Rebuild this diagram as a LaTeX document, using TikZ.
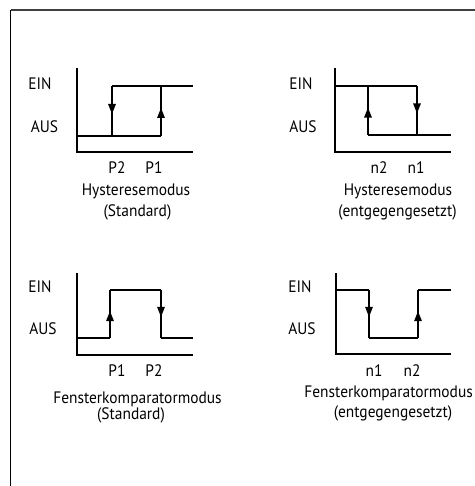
\documentclass[tikz,border=0pt]{standalone}
\usepackage{fontspec}
\setmainfont[FakeStretch=0.93]{PT Sans}
\usetikzlibrary{arrows.meta,decorations.markings}
\begin{document}
\begin{tikzpicture}[x=1pt,y=-1pt,
  frameline/.style={line width=1.4pt},
  axisline/.style={line width=1.4pt},
  curve/.style={line width=1.4pt, line join=miter},
  midarrow/.style={curve, postaction={decorate},
    decoration={markings, mark=at position 0.56 with {\arrow{Triangle[length=10pt,width=7.5pt]}}}},
  txt/.style={font=\fontsize{16.6}{19}\selectfont, inner sep=0pt, anchor=base}
]
\useasboundingbox (0,0) rectangle (474,486);

% outer frame (only top and left edges lie inside the page)
\coordinate (fTL) at (10.5,10);
\coordinate (fTR) at (480,10);
\coordinate (fBL) at (10.5,492);
\draw[frameline, black!75] (fTL) -- (fTR);
\draw[frameline] (fTL) -- (fBL);

% ---------- Hysteresemodus (Standard) ----------
\coordinate (a1top) at (77,68);
\coordinate (a1o) at (77,152);
\coordinate (a1end) at (193,152);
\draw[axisline] (a1top) -- (a1o) -- (a1end);
\coordinate (h1l) at (77,136);
\coordinate (h1p2lo) at (112,136);
\coordinate (h1p2hi) at (112,86);
\coordinate (h1p1lo) at (161,136);
\coordinate (h1p1hi) at (161,86);
\coordinate (h1r) at (193,86);
\draw[curve] (h1l) -- (h1p1lo);
\draw[curve] (h1p2hi) -- (h1r);
\draw[midarrow] (h1p2hi) -- (h1p2lo);
\draw[midarrow] (h1p1lo) -- (h1p1hi);
\node[txt] (ein1) at (40,90) {EIN};
\node[txt] (aus1) at (44.5,133) {AUS};
\node[txt] (p2a) at (117,174) {P2};
\node[txt] (p1a) at (154,174) {P1};
\node[txt] (t1) at (136,196) {Hysteresemodus};
\node[txt] (s1) at (137.5,216) {(Standard)};

% ---------- Hysteresemodus (entgegengesetzt) ----------
\coordinate (a2top) at (335,68);
\coordinate (a2o) at (335,152);
\coordinate (a2end) at (451,152);
\draw[axisline] (a2top) -- (a2o) -- (a2end);
\coordinate (h2l) at (335,86);
\coordinate (h2n2hi) at (368,86);
\coordinate (h2n2lo) at (368,135);
\coordinate (h2n1hi) at (417,86);
\coordinate (h2n1lo) at (417,135);
\coordinate (h2r) at (451,135);
\draw[curve] (h2l) -- (h2n1hi);
\draw[curve] (h2n2lo) -- (h2r);
\draw[midarrow] (h2n2lo) -- (h2n2hi);
\draw[midarrow] (h2n1hi) -- (h2n1lo);
\node[txt] (ein2) at (301,90) {EIN};
\node[txt] (aus2) at (303,133) {AUS};
\node[txt] (n2a) at (379,174) {n2};
\node[txt] (n1a) at (416,174) {n1};
\node[txt] (t2) at (398,196) {Hysteresemodus};
\node[txt] (s2) at (397.5,216) {(entgegengesetzt)};

% ---------- Fensterkomparatormodus (Standard) ----------
\coordinate (a3top) at (77,273);
\coordinate (a3o) at (77,355);
\coordinate (a3end) at (193,355);
\draw[axisline] (a3top) -- (a3o) -- (a3end);
\coordinate (w3l) at (77,338);
\coordinate (w3p1lo) at (110,338);
\coordinate (w3p1hi) at (110,290);
\coordinate (w3p2hi) at (161,290);
\coordinate (w3p2lo) at (161,338);
\coordinate (w3r) at (193,338);
\draw[curve] (w3l) -- (w3p1lo);
\draw[midarrow] (w3p1lo) -- (w3p1hi);
\draw[curve] (w3p1hi) -- (w3p2hi);
\draw[midarrow] (w3p2hi) -- (w3p2lo);
\draw[curve] (w3p2lo) -- (w3r);
\node[txt] (ein3) at (40,292) {EIN};
\node[txt] (aus3) at (43,334) {AUS};
\node[txt] (p1b) at (117,376) {P1};
\node[txt] (p2b) at (154,376) {P2};
\node[txt] (t3) at (137.5,403) {Fensterkomparatormodus};
\node[txt] (s3) at (131,419.5) {(Standard)};

% ---------- Fensterkomparatormodus (entgegengesetzt) ----------
\coordinate (a4top) at (336,273);
\coordinate (a4o) at (336,354);
\coordinate (a4end) at (451,354);
\draw[axisline] (a4top) -- (a4o) -- (a4end);
\coordinate (w4l) at (336,290);
\coordinate (w4n1hi) at (369,290);
\coordinate (w4n1lo) at (369,338);
\coordinate (w4n2lo) at (418,338);
\coordinate (w4n2hi) at (418,290);
\coordinate (w4r) at (451,290);
\draw[curve] (w4l) -- (w4n1hi);
\draw[midarrow] (w4n1hi) -- (w4n1lo);
\draw[curve] (w4n1lo) -- (w4n2lo);
\draw[midarrow] (w4n2lo) -- (w4n2hi);
\draw[curve] (w4n2hi) -- (w4r);
\node[txt] (ein4) at (300,292) {EIN};
\node[txt] (aus4) at (302,334) {AUS};
\node[txt] (n1b) at (374,376) {n1};
\node[txt] (n2b) at (412,376) {n2};
\node[txt, anchor=base east] (t4) at (473,397) {Fensterkomparatormodus};
\node[txt] (s4) at (393,417) {(entgegengesetzt)};
\end{tikzpicture}
\end{document}
